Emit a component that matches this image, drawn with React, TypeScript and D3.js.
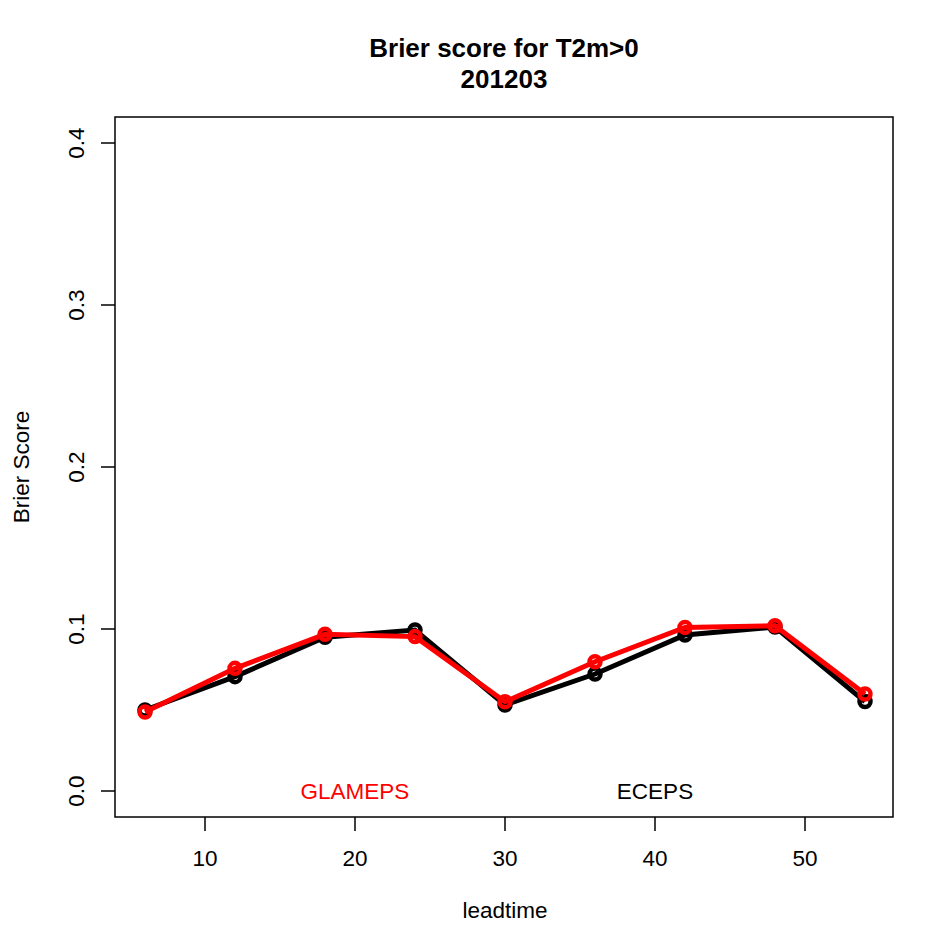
import { useEffect, useRef } from 'react';
import * as d3 from 'd3';

const leadtimes = [6, 12, 18, 24, 30, 36, 42, 48, 54];
const eceps = [0.050, 0.0706, 0.0949, 0.0994, 0.0531, 0.0722, 0.0963, 0.1012, 0.0552];
const glameps = [0.0488, 0.0757, 0.0967, 0.0953, 0.0551, 0.0798, 0.1010, 0.1020, 0.0599];
const xTicks = [10, 20, 30, 40, 50];
const yTicks = [0, 0.1, 0.2, 0.3, 0.4];
const seriesLabels = [
  { name: 'GLAMEPS', x: 20, y: 0, color: '#ff0000' },
  { name: 'ECEPS', x: 40, y: 0, color: '#000000' },
];

const W = 939;
const H = 925;
const FONT = 'Liberation Sans, Arial, Helvetica, sans-serif';
const FS = 22.5;

export default function App() {
  const svgRef = useRef<SVGSVGElement>(null);

  useEffect(() => {
    if (!svgRef.current) return;
    const svg = d3.select(svgRef.current);
    svg.selectAll('*').remove();

    const box = { left: 115, right: 893, top: 117, bottom: 817 };

    const x = d3.scaleLinear().domain([6, 54]).range([145, 865]);
    const y = d3.scaleLinear().domain([0, 0.4]).range([791, 143]);

    svg.append('rect').attr('width', W).attr('height', H).attr('fill', '#fff');

    // title
    const title = svg.append('text')
      .attr('text-anchor', 'middle')
      .attr('font-family', FONT)
      .attr('font-weight', 'bold')
      .attr('font-size', 26);
    title.append('tspan').attr('x', 504).attr('y', 57).text('Brier score for T2m>0');
    title.append('tspan').attr('x', 504).attr('y', 88).text('201203');

    // frame
    svg.append('rect')
      .attr('x', box.left)
      .attr('y', box.top)
      .attr('width', box.right - box.left)
      .attr('height', box.bottom - box.top)
      .attr('fill', 'none')
      .attr('stroke', '#000')
      .attr('stroke-width', 1.5);

    // x axis
    const xa = svg.append('g');
    xa.selectAll('line').data(xTicks).join('line')
      .attr('x1', (d) => x(d)).attr('x2', (d) => x(d))
      .attr('y1', box.bottom).attr('y2', box.bottom + 14)
      .attr('stroke', '#000').attr('stroke-width', 1.5);
    xa.selectAll('text').data(xTicks).join('text')
      .attr('x', (d) => x(d)).attr('y', 866)
      .attr('text-anchor', 'middle')
      .attr('font-family', FONT).attr('font-size', FS)
      .text((d) => d);

    // y axis
    const ya = svg.append('g');
    ya.selectAll('line').data(yTicks).join('line')
      .attr('x1', box.left - 14).attr('x2', box.left)
      .attr('y1', (d) => y(d)).attr('y2', (d) => y(d))
      .attr('stroke', '#000').attr('stroke-width', 1.5);
    ya.selectAll('text').data(yTicks).join('text')
      .attr('transform', (d) => `translate(84,${y(d)}) rotate(-90)`)
      .attr('text-anchor', 'middle')
      .attr('font-family', FONT).attr('font-size', FS)
      .text((d) => d.toFixed(1));

    // axis titles
    svg.append('text')
      .attr('x', 505).attr('y', 918)
      .attr('text-anchor', 'middle')
      .attr('font-family', FONT).attr('font-size', FS)
      .text('leadtime');
    svg.append('text')
      .attr('transform', `translate(29,${y(0.2)}) rotate(-90)`)
      .attr('text-anchor', 'middle')
      .attr('font-family', FONT).attr('font-size', FS)
      .text('Brier Score');

    const line = d3.line<[number, number]>()
      .x((d) => x(d[0]))
      .y((d) => y(d[1]));

    const series = [
      { values: eceps, color: '#000000' },
      { values: glameps, color: '#ff0000' },
    ];

    series.forEach((s) => {
      const pts: [number, number][] = leadtimes.map((t, i) => [t, s.values[i]]);
      const g = svg.append('g');
      g.append('path')
        .datum(pts)
        .attr('fill', 'none')
        .attr('stroke', s.color)
        .attr('stroke-width', 5)
        .attr('d', line);
      g.selectAll('circle').data(pts).join('circle')
        .attr('cx', (d) => x(d[0]))
        .attr('cy', (d) => y(d[1]))
        .attr('r', 5.5)
        .attr('fill', 'none')
        .attr('stroke', s.color)
        .attr('stroke-width', 4.5);
    });

    // series labels
    svg.selectAll('text.lab').data(seriesLabels).join('text')
      .attr('class', 'lab')
      .attr('x', (d) => x(d.x))
      .attr('y', (d) => y(d.y) + 8)
      .attr('text-anchor', 'middle')
      .attr('font-family', FONT).attr('font-size', FS)
      .attr('fill', (d) => d.color)
      .text((d) => d.name);
  }, []);

  return (
    <svg
      ref={svgRef}
      width={W}
      height={H}
      style={{ position: 'absolute', left: 0, top: 0 }}
    />
  );
}
